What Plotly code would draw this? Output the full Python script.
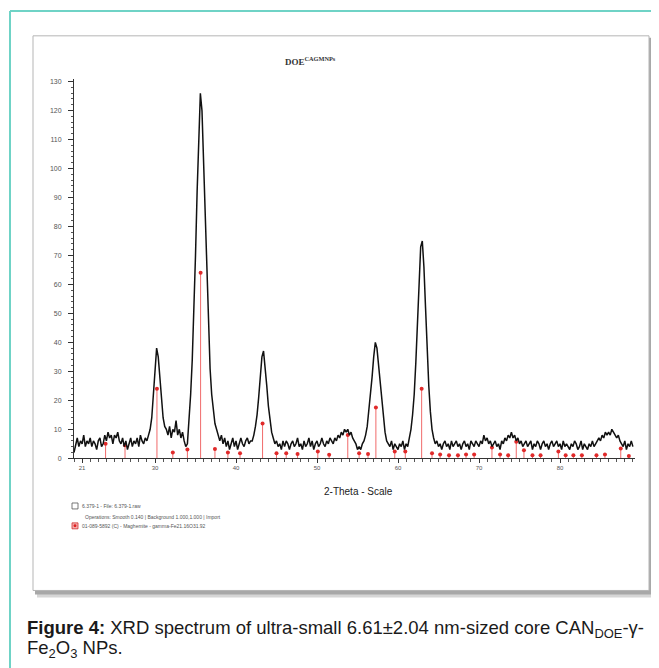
import numpy as np
import plotly.graph_objects as go

# page body has an 8px default margin, so the figure is drawn 8px smaller
OFF = 8
W, H = 659 - OFF, 668 - OFF

# ---- data ----
two_theta_start, two_theta_step = 20.0, 0.2
counts = [
    2, 5, 7, 4, 6, 5, 8, 4, 6, 5,
    7, 4, 6, 5, 3, 6, 7, 4, 5, 8,
    6, 9, 7, 8, 5, 8, 7, 9, 6, 5,
    7, 4, 6, 3, 5, 7, 4, 6, 5, 7,
    4, 8, 6, 5, 7, 6, 8, 10, 14, 21,
    30, 38, 35, 27, 19, 14, 11, 10, 8, 11,
    7, 10, 9, 13, 8, 10, 7, 9, 6, 4,
    5, 12, 22, 34, 50, 70, 92, 113, 126, 120,
    102, 82, 62, 44, 31, 22, 16, 12, 10, 8,
    6, 8, 5, 7, 4, 6, 3, 5, 7, 4,
    6, 3, 5, 7, 5, 4, 6, 7, 5, 6,
    6, 8, 11, 15, 21, 28, 35, 37, 32, 25,
    18, 13, 9, 7, 5, 6, 4, 5, 3, 6,
    4, 6, 5, 3, 5, 6, 4, 5, 7, 4,
    5, 3, 6, 4, 5, 7, 4, 6, 3, 5,
    6, 4, 5, 7, 5, 4, 6, 5, 7, 6,
    5, 7, 6, 8, 7, 9, 8, 10, 9, 10,
    8, 9, 7, 6, 5, 3, 4, 3, 5, 6,
    8, 11, 16, 22, 28, 35, 40, 38, 32, 25,
    19, 13, 9, 6, 5, 4, 6, 3, 5, 4,
    3, 5, 4, 6, 3, 5, 4, 7, 10, 15,
    22, 33, 47, 62, 73, 75, 66, 52, 37, 25,
    16, 10, 7, 5, 6, 4, 5, 3, 5, 6,
    4, 5, 3, 6, 4, 5, 6, 4, 5, 3,
    5, 6, 4, 5, 3, 6, 5, 4, 6, 5,
    4, 6, 5, 8, 6, 7, 5, 6, 4, 5,
    6, 4, 5, 3, 6, 5, 7, 6, 8, 7,
    9, 7, 8, 6, 7, 5, 6, 4, 5, 6,
    4, 5, 6, 3, 5, 4, 6, 5, 3, 5,
    6, 4, 5, 3, 5, 6, 4, 5, 6, 4,
    5, 3, 6, 4, 5, 4, 3, 5, 4, 6,
    5, 3, 4, 6, 3, 5, 4, 3, 5, 4,
    6, 4, 5, 6, 7, 6, 8, 7, 9, 8,
    9, 8, 10, 9, 8, 7, 8, 6, 5, 4,
    6, 3, 5, 4, 6, 4,
]
two_theta = two_theta_start + two_theta_step * np.arange(len(counts))

# Maghemite reference pattern (stick positions / heights)
ref_pos = [23.9, 26.3, 30.24, 32.2, 34.0, 35.63, 37.4, 39.0, 40.5, 43.28,
           45.0, 46.2, 47.6, 50.1, 51.5, 53.8, 55.2, 56.3, 57.27, 59.6,
           60.9, 62.92, 64.2, 65.2, 66.3, 67.4, 68.4, 69.4, 71.6, 72.6,
           73.6, 74.6, 75.55, 76.6, 77.6, 79.8, 80.7, 81.65, 82.7, 84.5,
           85.55, 87.5, 88.5]
ref_int = [5, 4.5, 24, 2, 3, 64, 3.2, 2, 1.7, 12,
           1.7, 1.7, 1.5, 2.3, 1.2, 8, 1.7, 1.5, 17.5, 2.3,
           2.3, 24, 1.7, 1.3, 1, 1, 1.3, 1.3, 3.7, 1.3,
           1, 5.7, 2.8, 1, 1, 2.3, 1, 1, 1, 1,
           1.3, 3.4, 0.8]

x_tickvals = [21, 30, 40, 50, 60, 70, 80]
x_ticktext = ["21", "30", "40", "50", "60", "70", "80"]
y_tickvals = list(range(0, 131, 10))

# ---- helpers for pixel placement (window pixel -> paper fraction) ----
def fx(px):
    return (px - OFF) / W

def fy(py):
    return 1 - (py - OFF) / H

fig = go.Figure()

stick_x, stick_y = [], []
for p, h in zip(ref_pos, ref_int):
    stick_x += [p, p, None]
    stick_y += [0, h, None]

fig.add_trace(go.Scatter(x=stick_x, y=stick_y, mode="lines",
                         line=dict(color="#f06a6a", width=1),
                         hoverinfo="skip", showlegend=False))
fig.add_trace(go.Scatter(x=ref_pos, y=ref_int, mode="markers",
                         marker=dict(color="#e02a2a", size=4),
                         showlegend=False))
fig.add_trace(go.Scatter(x=two_theta, y=counts, mode="lines",
                         line=dict(color="#111111", width=1.5),
                         showlegend=False))

shapes = []
# teal outer frame (top + left)
shapes.append(dict(type="line", xref="paper", yref="paper",
                   x0=fx(10), x1=fx(670), y0=fy(10), y1=fy(10),
                   line=dict(color="#6fd3c6", width=2), layer="below"))
shapes.append(dict(type="line", xref="paper", yref="paper",
                   x0=fx(10), x1=fx(10), y0=fy(10), y1=fy(680),
                   line=dict(color="#6fd3c6", width=2), layer="below"))
# panel shadow
shapes.append(dict(type="rect", xref="paper", yref="paper",
                   x0=fx(37), x1=fx(654), y0=fy(39), y1=fy(600),
                   fillcolor="#d6d6d6", line=dict(width=0), layer="below"))
shapes.append(dict(type="rect", xref="paper", yref="paper",
                   x0=fx(35), x1=fx(652), y0=fy(37), y1=fy(597),
                   fillcolor="#a8a8a8", line=dict(width=0), layer="below"))
# panel
shapes.append(dict(type="rect", xref="paper", yref="paper",
                   x0=fx(33), x1=fx(649), y0=fy(35), y1=fy(593),
                   fillcolor="white", line=dict(color="#b5b5b5", width=1),
                   layer="below"))
# legend icons
shapes.append(dict(type="rect", xref="paper", yref="paper",
                   x0=fx(72), x1=fx(78), y0=fy(505), y1=fy(511),
                   fillcolor="white", line=dict(color="#555", width=0.8)))
shapes.append(dict(type="rect", xref="paper", yref="paper",
                   x0=fx(72), x1=fx(78), y0=fy(525), y1=fy(531),
                   fillcolor="#f3b0b0", line=dict(color="#d03030", width=0.8)))
shapes.append(dict(type="circle", xref="paper", yref="paper",
                   x0=fx(73.5), x1=fx(76.5), y0=fy(526.5), y1=fy(529.5),
                   fillcolor="#e02020", line=dict(width=0)))

annotations = []
annotations.append(dict(xref="paper", yref="paper", x=fx(283), y=fy(60),
                        xanchor="left", yanchor="middle", showarrow=False,
                        text="<b>DOE<sup>CAGMNPs</sup></b>",
                        font=dict(family="Liberation Serif", size=9, color="#333")))
annotations.append(dict(xref="paper", yref="paper", x=fx(358), y=fy(493),
                        xanchor="center", yanchor="middle", showarrow=False,
                        text="2-Theta - Scale",
                        font=dict(family="Liberation Sans", size=10, color="#222")))
annotations.append(dict(xref="paper", yref="paper", x=fx(80), y=fy(508),
                        xanchor="left", yanchor="middle", showarrow=False,
                        text="6.379-1 - File: 6.379-1.raw",
                        font=dict(family="Liberation Sans", size=5, color="#555")))
annotations.append(dict(xref="paper", yref="paper", x=fx(83), y=fy(519),
                        xanchor="left", yanchor="middle", showarrow=False,
                        text="Operations: Smooth 0.140 | Background 1.000,1.000 | Import",
                        font=dict(family="Liberation Sans", size=5, color="#555")))
annotations.append(dict(xref="paper", yref="paper", x=fx(80), y=fy(528),
                        xanchor="left", yanchor="middle", showarrow=False,
                        text="01-089-5892 (C) - Maghemite - gamma-Fe21.16O31.92",
                        font=dict(family="Liberation Sans", size=5, color="#555")))
annotations.append(dict(xref="paper", yref="paper", x=fx(25), y=fy(632),
                        xanchor="left", yanchor="middle", showarrow=False,
                        text="<b>Figure 4:</b> XRD spectrum of ultra-small 6.61±2.04 nm-sized core CAN<sub>DOE</sub>-γ-",
                        font=dict(family="Liberation Sans", size=18.5, color="#1a1a1a")))
annotations.append(dict(xref="paper", yref="paper", x=fx(25), y=fy(652),
                        xanchor="left", yanchor="middle", showarrow=False,
                        text="Fe<sub>2</sub>O<sub>3</sub> NPs.",
                        font=dict(family="Liberation Sans", size=18.5, color="#1a1a1a")))

x_lo, x_hi = 20.0, 89.3
px_per_deg = 8.1
y_lo, y_hi = 0, 131
y0_px, px_per_unit = 460, 2.915

fig.update_layout(
    width=W, height=H,
    margin=dict(l=0, r=0, t=0, b=0),
    paper_bgcolor="white", plot_bgcolor="rgba(0,0,0,0)",
    shapes=shapes, annotations=annotations,
    xaxis=dict(domain=[fx(74), fx(74 + (x_hi - x_lo) * px_per_deg)],
               range=[x_lo, x_hi], showgrid=False, zeroline=False,
               showline=True, linecolor="#333", linewidth=1,
               ticks="outside", ticklen=4, tickcolor="#333", tickwidth=1,
               tickvals=x_tickvals, ticktext=x_ticktext,
               minor=dict(dtick=1, tick0=20, ticklen=2.5, ticks="outside", tickcolor="#555"),
               tickfont=dict(family="Liberation Sans", size=6, color="#555")),
    yaxis=dict(domain=[fy(y0_px), fy(y0_px - (y_hi - y_lo) * px_per_unit)],
               range=[y_lo, y_hi], showgrid=False, zeroline=False,
               showline=True, linecolor="#333", linewidth=1,
               ticks="outside", ticklen=5, tickcolor="#333", tickwidth=1,
               tickvals=y_tickvals,
               minor=dict(dtick=2, tick0=0, ticklen=2.5, ticks="outside", tickcolor="#555"),
               ticklabelstandoff=5,
               tickfont=dict(family="Liberation Sans", size=7, color="#555")),
)

fig.write_html("out.html")
